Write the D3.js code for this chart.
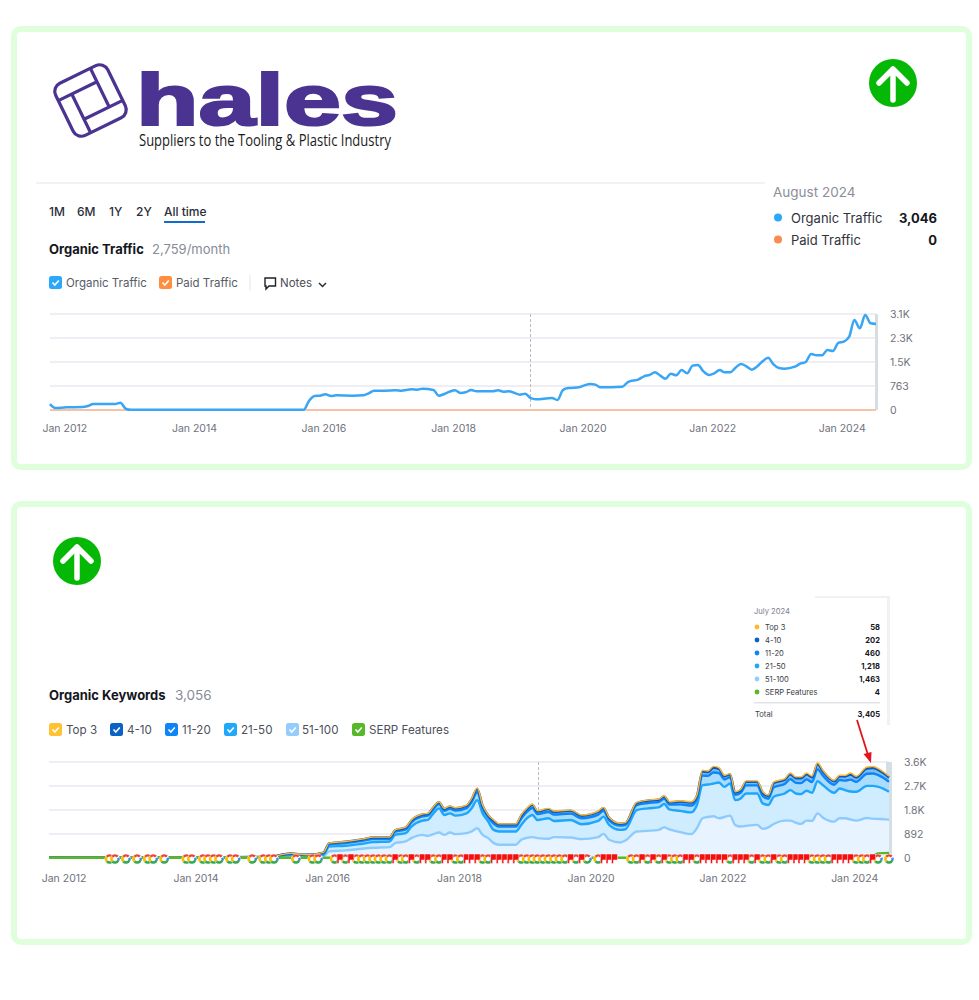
<!DOCTYPE html>
<html>
<head>
<meta charset="utf-8">
<script src="https://cdn.jsdelivr.net/npm/d3@7"></script>
<style>
body { margin: 0; background: #fff; }
text { font-family: Inter, "Noto Sans", sans-serif; }
</style>
</head>
<body>
<div id="chart"></div>
<script>
// months are counted from Oct 2011, the left edge of both charts
const trafficMonths = [0,1,3,6,7,8,12,13,14,15,24,33,40,47,48,49,50,51,52,53,56,58,59,60,62,64,65,67,68,69,71,72,73,74,75,76,77,78,79,82,83,84,85,87,88,89,90,93,94,95,96,98,99,100,101,102,106,107,109,110,111,112,113,114,115,116,117,118,119,120,121,122,123,124,125,126,127,128,129,130,131,132,133,134,135,136,138,139,140,141,142,143,144,145,146,147,148,149,150,151,152,153];
const organicTraffic = [190,64,85,95,127,190,190,233,40,5,10,5,5,10,297,445,456,498,445,466,456,466,530,615,615,625,615,657,647,678,636,456,509,583,625,541,562,636,594,594,625,583,594,488,519,382,339,382,318,636,700,721,784,827,806,721,742,890,975,1071,1113,1198,1102,996,1155,1102,1272,1166,1410,1431,1230,1113,1166,1272,1198,1198,1346,1463,1389,1283,1389,1548,1664,1452,1336,1314,1378,1473,1526,1781,1738,1738,1908,1876,2131,2173,2332,2862,2597,3021,2756,2735];
const paidMonths = [0,153];
const paidTraffic = [0,0];
const trafficTicks = [0,763,1526,2289,3052];
const trafficTickLabels = ["0","763","1.5K","2.3K","3.1K"];

const keywordMonths = [0,15,30,40,44,47,50,51,54,57,59,62,63,65,66,68,69,70,71,72,73,74,76,77,78,79,80,81,82,85,86,87,88,89,91,92,95,97,100,101,102,104,105,107,109,111,112,113,115,117,118,119,120,121,122,123,124,125,126,127,129,130,131,132,134,135,136,137,138,139,140,141,143,144,145,146,147,149,150,152,153];
const top100 = [10,12,10,18,60,45,60,246,283,344,380,405,553,615,738,861,825,886,947,861,947,886,923,990,1107,861,738,553,492,492,677,750,775,738,713,775,763,701,775,898,677,578,650,984,1009,1045,1140,1060,960,886,1107,1476,1525,1550,1476,1525,1574,1230,1168,1195,1230,1082,1140,1263,1390,1390,1310,1267,1390,1378,1660,1500,1353,1476,1476,1430,1390,1488,1463,1440,1427];
const top50 = [8,10,8,12,50,40,60,184,172,185,210,210,308,308,430,529,590,774,898,739,713,689,737,855,1045,799,615,492,492,492,553,726,824,676,763,602,651,554,602,640,553,467,420,799,836,837,865,748,790,811,861,1230,1205,1217,1328,1119,1193,922,1046,1203,1168,947,828,1012,1008,1131,1088,1107,1107,1045,1194,1206,1070,1107,1044,1040,1070,1193,1218,1130,1033];
const top20 = [5,6,5,8,40,24,57,79,102,110,118,102,118,141,157,157,157,157,157,157,173,189,197,236,291,197,158,236,181,181,237,236,260,221,236,237,237,221,237,220,181,158,157,181,197,197,196,181,242,252,236,355,323,410,355,276,237,197,212,300,300,276,236,355,355,410,394,410,425,401,440,355,300,315,355,442,370,449,460,402,370];
const top10 = [2,2,2,3,17,11,25,34,45,48,52,45,52,62,69,69,68,69,69,68,76,83,86,103,127,86,69,103,79,79,104,103,114,97,103,104,104,97,104,96,79,69,69,79,86,86,86,79,106,110,103,155,141,179,155,121,104,86,93,131,131,121,103,155,155,179,172,179,186,176,193,155,131,138,155,193,162,196,202,176,162];
const top3 = [0,0,0,1,5,3,7,10,13,14,15,13,14,18,20,20,20,20,20,20,22,23,25,30,37,25,20,30,23,23,29,30,32,27,30,29,29,27,29,28,23,20,20,23,25,25,25,23,30,32,30,44,41,51,44,34,29,25,27,37,37,34,30,44,44,51,50,51,53,50,55,44,37,39,45,56,46,56,58,50,46];
const serpMonths = [0,149,150,151,153];
const serpFeatures = [12,12,60,170,190];
const keywordTicks = [0,892,1784,2676,3568];
const keywordTickLabels = ["0","892","1.8K","2.7K","3.6K"];

const googleMarks = [11,12,14,16,18,19,21,25,26,28,29,30,31,33,34,37,39,40,41,45,48,49,52,54,56,57,58,59,60,61,62,64,65,67,70,71,74,75,79,80,86,87,88,89,90,91,92,93,94,96,98,100,106,107,109,111,113,114,115,118,124,128,130,131,133,134,139,140,141,142,147,148,149,151,153];
const flagMarks = [53,55,63,66,68,69,72,73,76,77,78,81,82,83,84,85,95,97,101,102,103,108,110,112,116,117,119,120,121,122,123,125,126,127,129,132,135,136,137,138,143,144,145,146,150];

const yearTicks = ["2012","2014","2016","2018","2020","2022","2024"];
const rangeButtons = [["1M",49],["6M",77],["1Y",109],["2Y",136],["All time",164]];
const trafficLegend = [["Organic Traffic","#2ca8fb",49,66],["Paid Traffic","#ff8f3f",159,176]];
const keywordLegend = [["Top 3","#ffc233",49,66],["4-10","#0a62c4",110,127],["11-20","#0d84f8",165,182],["21-50","#20a8fb",224,241],["51-100","#93cdfd",286,302],["SERP Features","#57b82a",352,369]];
const tipLabels = ["Top 3","4-10","11-20","21-50","51-100","SERP Features"];
const tipValues = ["58","202","460","1,218","1,463","4"];
const tipColors = ["#ffb732","#0a62c4","#0d84f8","#20a8fb","#93cdfd","#57b82a"];

const start = new Date(2011, 9, 1);
const end = d3.timeMonth.offset(start, 153);
const toDate = m => d3.timeMonth.offset(start, m);

const svg = d3.select("#chart").append("svg").attr("width", 979).attr("height", 1000);

// green frames
[[14,29,955,438],[14,504,955,438]].forEach(r => {
    svg.append("rect").attr("x", r[0]).attr("y", r[1]).attr("width", r[2]).attr("height", r[3])
        .attr("rx", 7).attr("fill", "#fff").attr("stroke", "#dfffdc").attr("stroke-width", 6);
});

function text(t, x, y, size, color, weight, anchor) {
    return svg.append("text").attr("x", x).attr("y", y).text(t)
        .style("font-size", size + "px").style("fill", color)
        .style("font-weight", weight || 400).style("text-anchor", anchor || "start");
}

function upArrow(cx, cy) {
    const g = svg.append("g").attr("transform", `translate(${cx},${cy})`);
    g.append("circle").attr("r", 24).attr("fill", "#05b805");
    g.append("path").attr("d", "M-14,0 L0,-14 L14,0 M0,-14 L0,17")
        .attr("fill", "none").attr("stroke", "#fff").attr("stroke-width", 5.5)
        .attr("stroke-linecap", "round").attr("stroke-linejoin", "round");
}
upArrow(893, 83);
upArrow(77, 561);

// logo
const purple = "#4a3391";
const mark = svg.append("g").attr("transform", "translate(90.5,100.5) rotate(-26)")
    .attr("fill", "none").attr("stroke", purple).attr("stroke-width", 3.2);
mark.append("rect").attr("x", -29).attr("y", -29).attr("width", 58).attr("height", 58).attr("rx", 9);
mark.append("path").attr("d", "M-29,-14 H14 M14,-29 V14 M29,14 H-14 M-14,29 V-14");
text("hales", 136, 125, 72, purple, 700)
    .attr("textLength", 262).attr("lengthAdjust", "spacingAndGlyphs")
    .style("font-family", "'Liberation Sans'").attr("stroke", purple).attr("stroke-width", 2.2);
text("Suppliers to the Tooling & Plastic Industry", 139, 146, 16.5, "#1b1b22", 400)
    .attr("textLength", 252).attr("lengthAdjust", "spacingAndGlyphs")
    .style("font-family", "'Open Sans'");

// header of the traffic panel
svg.append("line").attr("x1", 36).attr("x2", 765).attr("y1", 183).attr("y2", 183).attr("stroke", "#eeeeee").attr("stroke-width", 1.5);
rangeButtons.forEach(b => text(b[0], b[1], 216, 12, "#2b2e38", 500));
svg.append("rect").attr("x", 164).attr("y", 221).attr("width", 41).attr("height", 2).attr("fill", "#0f6bd0");
text("Organic Traffic", 49, 254, 13, "#14161d", 700);
text("2,759/month", 152, 254, 13, "#868b97");

function checkbox(color, x, y) {
    svg.append("rect").attr("x", x).attr("y", y).attr("width", 13).attr("height", 13).attr("rx", 2.5).attr("fill", color);
    svg.append("path").attr("d", `M${x+3.5},${y+6.5} L${x+5.8},${y+9} L${x+9.8},${y+4.5}`)
        .attr("fill", "none").attr("stroke", "#fff").attr("stroke-width", 1.6);
}
trafficLegend.forEach(d => {
    checkbox(d[1], d[2], 276);
    text(d[0], d[3], 287, 11.5, "#575b67");
});
svg.append("line").attr("x1", 250).attr("x2", 250).attr("y1", 275).attr("y2", 291).attr("stroke", "#e4e5e9");
svg.append("path").attr("d", "M265,278 H275.5 V286 H269 L266,289 V286 H265 Z").attr("fill", "none").attr("stroke", "#1f2129").attr("stroke-width", 1.4);
text("Notes", 280, 287, 11.5, "#4a4d58", 400);
svg.append("path").attr("d", "M319,283 L322.5,286.5 L326,283").attr("fill", "none").attr("stroke", "#2b2e38").attr("stroke-width", 1.5);

text("August 2024", 773, 197, 13.5, "#8a8f9a");
[["Organic Traffic","#2ca8fb","3,046",218],["Paid Traffic","#fb8b4e","0",240]].forEach(d => {
    svg.append("circle").attr("cx", 778).attr("cy", d[3] - 0.5).attr("r", 4).attr("fill", d[1]);
    text(d[0], 791, d[3] + 5, 13, "#30333d", 400);
    text(d[2], 937, d[3] + 5, 13, "#14161d", 700, "end");
});

// shared chart frame: grid, axes, hover line, right edge band
function frame(left, right, top, bottom, domainMax, ticks, tickLabels, labelX, axisY, hoverX, bandX, bandW) {
    const x = d3.scaleTime().domain([start, end]).range([left, right]);
    const y = d3.scaleLinear().domain([0, domainMax]).range([bottom, top]);
    svg.append("g").selectAll("line").data(ticks).enter().append("line")
        .attr("x1", left).attr("x2", right)
        .attr("y1", d => y(d)).attr("y2", d => y(d))
        .attr("stroke", "#e8e8f1").attr("stroke-width", 1.4);
    svg.append("line").attr("x1", hoverX).attr("x2", hoverX).attr("y1", top).attr("y2", bottom)
        .attr("stroke", "#b9bcc4").attr("stroke-dasharray", "3,2");
    svg.append("rect").attr("x", bandX).attr("y", top).attr("width", bandW).attr("height", bottom - top).attr("fill", "#d5dee3");

    const yAxis = svg.append("g").attr("transform", `translate(${labelX},0)`)
        .call(d3.axisRight(y).tickValues(ticks).tickSize(0).tickPadding(0).tickFormat((d, i) => tickLabels[i]));
    const xAxis = svg.append("g").attr("transform", `translate(-2,${axisY})`)
        .call(d3.axisBottom(x).tickValues(yearTicks.map(t => new Date(+t, 0, 1))).tickSize(0).tickPadding(0)
            .tickFormat(d3.timeFormat("Jan %Y")));
    [yAxis, xAxis].forEach(a => {
        a.select(".domain").remove();
        a.selectAll("text").style("font-size", "10.5px").style("fill", "#6f727d");
    });
    return { x, y };
}

// Organic traffic
const t = frame(50, 876, 314, 410, 3052, trafficTicks, trafficTickLabels, 890, 425, 530.5, 875, 3);
const tLine = (months) => d3.line().x((d, i) => t.x(toDate(months[i]))).y(d => t.y(d)).curve(d3.curveMonotoneX);
svg.append("path").datum(paidTraffic).attr("d", tLine(paidMonths))
    .attr("fill", "none").attr("stroke", "#f6c3a6").attr("stroke-width", 2);
svg.append("path").datum(organicTraffic).attr("d", tLine(trafficMonths))
    .attr("fill", "none").attr("stroke", "#38a5f5").attr("stroke-width", 2.5);

// Organic keywords header
text("Organic Keywords", 49, 700, 13, "#14161d", 700);
text("3,056", 175, 700, 13.5, "#868b97");
keywordLegend.forEach(d => {
    checkbox(d[1], d[2], 723);
    text(d[0], d[3], 734, 11.6, "#4c505c");
});

// Organic keywords stacked
const k = frame(49, 889, 762, 858, 3568, keywordTicks, keywordTickLabels, 904, 875, 538.5, 886, 6);
const rows = keywordMonths.map((m, i) => ({ m, a: top100[i], b: top50[i], c: top20[i], d: top10[i], e: top3[i] }));
const stack = d3.stack().keys(["a","b","c","d","e"])(rows);
const bandFills = ["#e7f4ff","#d0ecff","#a9dcfd","#7cbdf5","#ffc233"];
const bandLines = ["#8ecbfd","#1ea6fb","#0d84f8","#0a5cbc","#ffb732"];
const kArea = d3.area().x(d => k.x(toDate(d.data.m))).y0(d => k.y(d[0])).y1(d => k.y(d[1])).curve(d3.curveMonotoneX);
const kLine = d3.line().x(d => k.x(toDate(d.data.m))).y(d => k.y(d[1])).curve(d3.curveMonotoneX);
svg.append("g").selectAll("path").data(stack).enter().append("path")
    .attr("d", kArea).attr("fill", (d, i) => bandFills[i]);
svg.append("g").selectAll("path").data(stack).enter().append("path")
    .attr("d", kLine).attr("fill", "none")
    .attr("stroke", (d, i) => bandLines[i])
    .attr("stroke-width", (d, i) => i === 4 ? 1.4 : 2.4);
svg.append("path").datum(serpFeatures)
    .attr("d", d3.line().x((d, i) => k.x(toDate(serpMonths[i]))).y(d => k.y(d)).curve(d3.curveMonotoneX))
    .attr("fill", "none").attr("stroke", "#57b82a").attr("stroke-width", 2.4);

// Google update notes along the baseline
const gArc = d3.arc().innerRadius(2.3).outerRadius(4.8);
const gParts = [[-0.9,0.85,"#ea4335"],[1.2,1.9,"#4285f4"],[1.9,4.0,"#34a853"],[4.0,5.39,"#fbbc05"]];
const gIcons = svg.append("g").selectAll("g").data(googleMarks).enter().append("g")
    .attr("transform", d => `translate(${k.x(toDate(d))},859)`);
gIcons.append("circle").attr("r", 5).attr("fill", "#fff");
gParts.forEach(p => {
    gIcons.append("path").attr("d", gArc({ startAngle: p[0], endAngle: p[1] })).attr("fill", p[2]);
});
svg.append("g").selectAll("path").data(flagMarks).enter().append("path")
    .attr("d", d => { const fx = k.x(toDate(d)); return `M${fx-3},854 H${fx+3} V860 H${fx-1} V863.5 H${fx-3} Z`; })
    .attr("fill", "#f40f0f").attr("stroke", "#fff").attr("stroke-width", 0.5);

// tooltip, cut off at the bottom as in the screenshot
svg.append("rect").attr("x", 815).attr("y", 596).attr("width", 75).attr("height", 129).attr("fill", "#f1f1f3");
svg.append("rect").attr("x", 747).attr("y", 598).attr("width", 140).attr("height", 127).attr("fill", "#fff");
text("July 2024", 754, 614, 7.6, "#7d818c");
tipLabels.forEach((l, i) => {
    const rowY = 627 + i * 13;
    svg.append("circle").attr("cx", 757).attr("cy", rowY).attr("r", 2.4).attr("fill", tipColors[i]);
    text(l, 765, rowY + 2.7, 7.6, "#3a3d47");
    text(tipValues[i], 880, rowY + 2.7, 7.6, "#14161d", 700, "end");
});
svg.append("rect").attr("x", 754).attr("y", 702).attr("width", 126).attr("height", 1.5).attr("fill", "#e2e3e9");
text("Total", 755, 716.5, 7.6, "#3a3d47");
text("3,405", 880, 716.5, 7.6, "#14161d", 700, "end");

// red pointer
svg.append("line").attr("x1", 857).attr("y1", 720).attr("x2", 868).attr("y2", 755).attr("stroke", "#e3141b").attr("stroke-width", 1.8);
svg.append("path").attr("d", "M871,763 L863.5,754 L871.5,752 Z").attr("fill", "#e3141b");
</script>
</body>
</html>
